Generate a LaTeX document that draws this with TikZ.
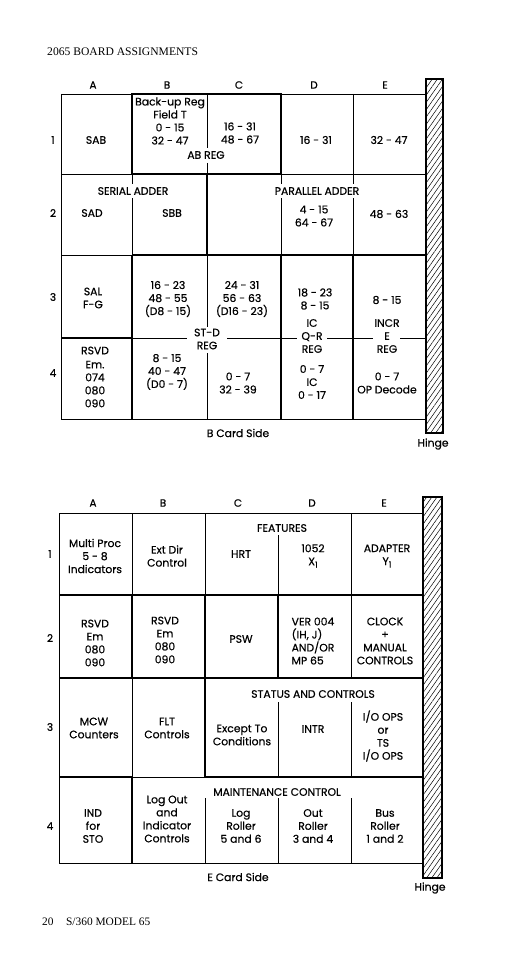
\documentclass[tikz,border=0pt]{standalone}
\usepackage{fontspec}
\setmainfont{Liberation Serif}
\newfontfamily\gridfont{Poppins}[FakeBold=0.5]
\usetikzlibrary{patterns.meta}
\tikzset{
  lbl/.style={font=\gridfont\fontsize{10.8}{13}\selectfont, align=center, inner sep=0pt},
  hdr/.style={font=\gridfont\fontsize{10.5}{12}\selectfont, inner sep=0pt},
  gthin/.style={line width=0.8pt},
  gthick/.style={line width=2.4pt},
  hinge/.style={draw, line width=1.2pt, pattern={Lines[angle=55,distance=4.2pt,line width=0.5pt]}},
}
\newcommand{\subone}{\raisebox{-2.5pt}{\fontsize{8.5}{8.5}\selectfont 1}}
\begin{document}
\begin{tikzpicture}[x=1pt,y=-1pt]
\useasboundingbox (0,0) rectangle (517,960);
\fill[white] (0,0) rectangle (517,960);
\node[anchor=west, inner sep=0pt, font=\fontsize{11.6}{13}\selectfont] (title) at (47,52) {2065 BOARD ASSIGNMENTS};
\node[anchor=west, inner sep=0pt, font=\fontsize{11.4}{13}\selectfont] (foot) at (42,922) {20\hspace{1.1em}S/360 MODEL 65};

% ================= TOP GRID =================
\foreach \c/\x in {A/93,B/167,C/239,D/314,E/385} \node[hdr] (tc\c) at (\x,85) {\c};
\foreach \r/\y in {1/140,2/213,3/297,4/373} \node[hdr] (tr\r) at (53,\y) {\r};
\draw[hinge] (426,79) rectangle (443,433);
% outer
\draw[gthin] (61,94) -- (426,94);
\draw[gthin] (61,94) -- (61,419) -- (426,419);
% row 1
\draw[gthin] (61,174) -- (426,174);
\draw[gthin] (353,94) -- (353,174);
\draw[gthin] (207,94) -- (207,148) (207,163) -- (207,174);
\draw[gthick] (132,94) rectangle (281,174);
% row 2
\draw[gthin] (132,174) -- (132,184) (132,198) -- (132,255);
\draw[gthick] (207,174) -- (207,255);
\draw[gthin] (281,174) -- (281,184) (281,198) -- (281,255);
\draw[gthin] (353,174) -- (353,184) (353,198) -- (353,255);
\draw[gthin] (61,255) -- (132,255);
\draw[gthick] (132,255) -- (426,255);
% rows 3-4
\draw[gthick] (132,255) -- (132,419);
\draw[gthick] (61,338) -- (132,338);
\draw[gthin] (207,255) -- (207,327) (207,353) -- (207,419);
\draw[gthin] (132,338) -- (187,338) (227,338) -- (281,338);
\draw[gthick] (281,255) -- (281,419);
\draw[gthick] (353,255) -- (353,419);
\draw[gthin] (281,338) -- (297,338) (327,338) -- (353,338);
\draw[gthin] (353,338) -- (373,338) (400,338) -- (426,338);
% texts top
\node[lbl] (sab) at (96,140) {SAB};
\node[lbl] (bkup) at (170,121) {Back-up Reg\\Field T\\0 - 15\\32 - 47};
\node[lbl] (c1) at (240,133) {16 - 31\\48 - 67};
\node[lbl] (abreg) at (206,155) {AB REG};
\node[lbl] (d1) at (316,140) {16 - 31};
\node[lbl] (e1) at (389,140) {32 - 47};
\node[lbl] (serial) at (133,191) {SERIAL ADDER};
\node[lbl] (parallel) at (317,191) {PARALLEL ADDER};
\node[lbl] (sad) at (92,213) {SAD};
\node[lbl] (sbb) at (172,213) {SBB};
\node[lbl] (d2) at (314,216) {4 - 15\\64 - 67};
\node[lbl] (e2) at (389,214) {48 - 63};
\node[lbl] (sal) at (93,298) {SAL\\F-G};
\node[lbl] (rsvd1) at (95,377) {RSVD\\[1pt]Em.\\074\\080\\090};
\node[lbl] (b3) at (168,299) {16 - 23\\48 - 55\\(D8 - 15)};
\node[lbl] (c3) at (242,299) {24 - 31\\56 - 63\\(D16 - 23)};
\node[lbl] (stdreg) at (207,339) {ST-D\\REG};
\node[lbl] (b4) at (167,372) {8 - 15\\40 - 47\\(D0 - 7)};
\node[lbl] (c4) at (238,383) {0 - 7\\32 - 39};
\node[lbl] (d3) at (315,299) {18 - 23\\8 - 15};
\node[lbl] (qr) at (312,336) {IC\\Q-R\\REG};
\node[lbl] (d4) at (312,382) {0 - 7\\IC\\0 - 17};
\node[lbl] (e3) at (387,300) {8 - 15};
\node[lbl] (ereg) at (387,336) {INCR\\E\\REG};
\node[lbl] (e4) at (387,383) {0 - 7\\OP Decode};
\node[lbl] (bside) at (238,433) {B Card Side};
\node[lbl] (hinge1) at (433,444) {Hinge};

% ================= BOTTOM GRID =================
\foreach \c/\x in {A/93,B/163,C/238,D/312,E/384} \node[hdr] (bc\c) at (\x,503) {\c};
\foreach \r/\y in {1/554,2/638,3/727,4/826} \node[hdr] (br\r) at (50,\y) {\r};
\draw[hinge] (423,497) rectangle (442,878);
\draw[gthin] (59,513) -- (423,513);
\draw[gthin] (59,513) -- (59,863) -- (423,863);
% row 1
\draw[gthin] (132,513) -- (132,595);
\draw[gthin] (205,513) -- (205,595);
\draw[gthin] (278,535) -- (278,595);
\draw[gthin] (351,513) -- (351,595);
\draw[gthick] (59,595) -- (423,595);
% row 2
\draw[gthick] (132,595) -- (132,678);
\draw[gthick] (205,595) -- (205,678);
\draw[gthick] (278,595) -- (278,678);
\draw[gthin] (351,595) -- (351,678);
\draw[gthick] (59,678) -- (423,678);
% row 3
\draw[gthin] (132,678) -- (132,777);
\draw[gthick] (205,678) -- (205,777);
\draw[gthin] (278,702) -- (278,777);
\draw[gthin] (351,702) -- (351,777);
\draw[gthick] (59,777) -- (132,777);
\draw[gthin] (132,777) -- (205,777);
\draw[gthick] (205,777) -- (423,777);
% row 4
\draw[gthick] (132,777) -- (132,863);
\draw[gthin] (205,798) -- (205,863);
\draw[gthin] (278,798) -- (278,863);
\draw[gthin] (351,798) -- (351,863);
% texts bottom
\node[lbl] (mproc) at (95,556) {Multi Proc\\5 - 8\\Indicators};
\node[lbl] (extdir) at (167,556) {Ext Dir\\Control};
\node[lbl] (features) at (282,528) {FEATURES};
\node[lbl] (hrt) at (241,554) {HRT};
\node[lbl] (x1052) at (313,556) {1052\\X\subone};
\node[lbl] (adapter) at (387,556) {ADAPTER\\Y\subone};
\node[lbl] (rsvda) at (95,643) {RSVD\\Em\\080\\090};
\node[lbl] (rsvdb) at (165,640) {RSVD\\Em\\080\\090};
\node[lbl] (psw) at (241,639) {PSW};
\node[lbl, align=left] (ver) at (313,641) {VER 004\\(IH, J)\\AND/OR\\MP 65};
\node[lbl] (clock) at (385,641) {CLOCK\\+\\MANUAL\\CONTROLS};
\node[lbl] (status) at (313,694) {STATUS AND CONTROLS};
\node[lbl] (mcw) at (94,728) {MCW\\Counters};
\node[lbl] (flt) at (167,728) {FLT\\Controls};
\node[lbl] (except) at (242,735) {Except To\\Conditions};
\node[lbl] (intr) at (313,729) {INTR};
\node[lbl] (ioops) at (383,736) {I/O OPS\\or\\TS\\I/O OPS};
\node[lbl] (maint) at (277,792) {MAINTENANCE CONTROL};
\node[lbl] (ind) at (93,826) {IND\\for\\STO};
\node[lbl] (logout) at (167,819) {Log Out\\and\\Indicator\\Controls};
\node[lbl] (logr) at (241,826) {Log\\Roller\\5 and 6};
\node[lbl] (outr) at (313,826) {Out\\Roller\\3 and 4};
\node[lbl] (busr) at (385,826) {Bus\\Roller\\1 and 2};
\node[lbl] (eside) at (238,877) {E Card Side};
\node[lbl] (hinge2) at (430,888) {Hinge};
\end{tikzpicture}
\end{document}
